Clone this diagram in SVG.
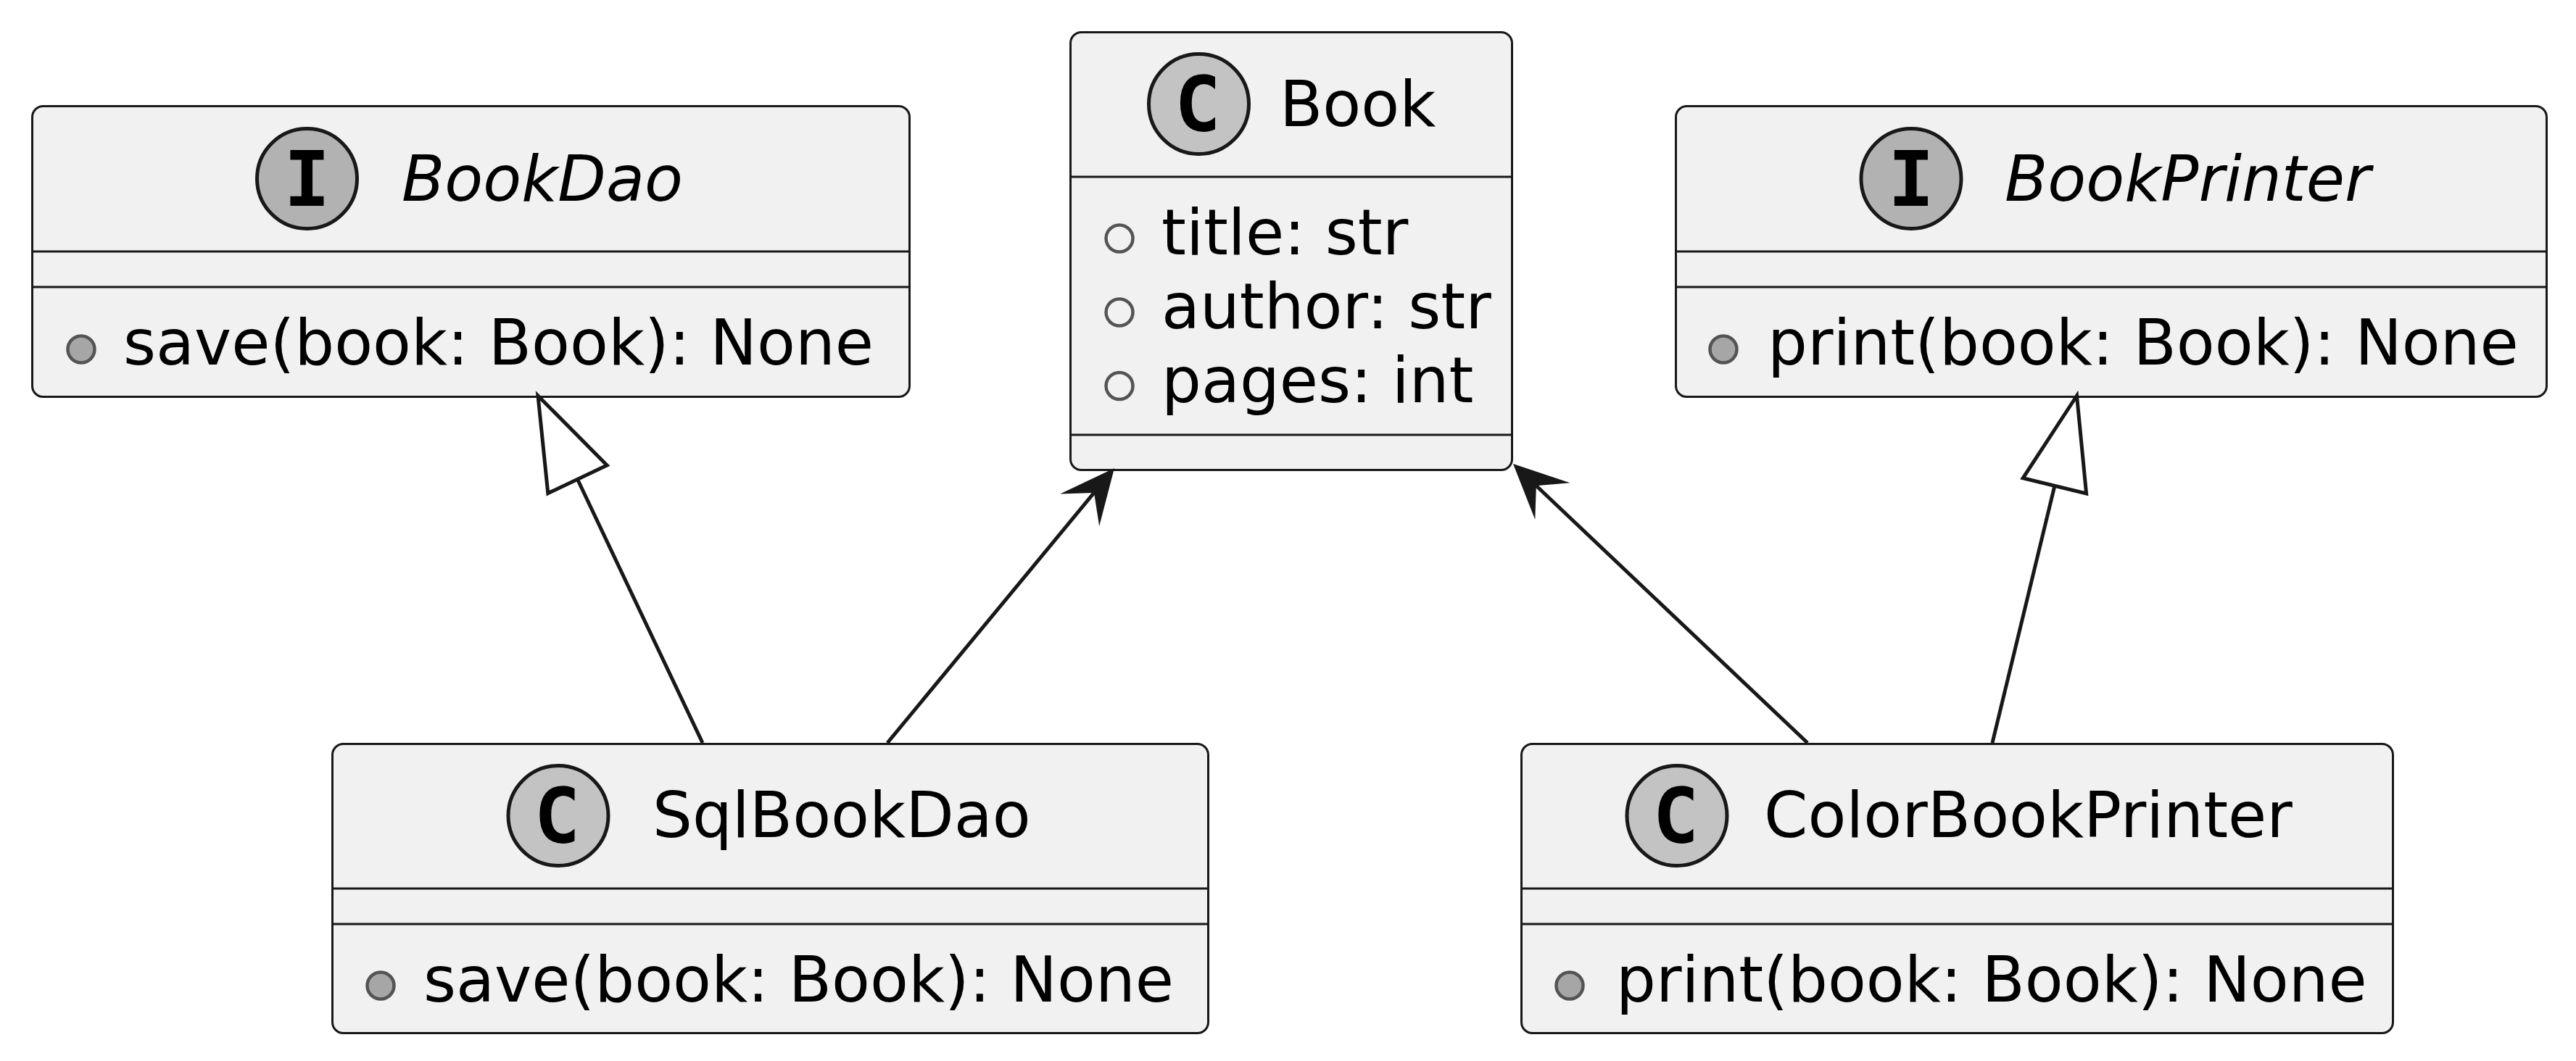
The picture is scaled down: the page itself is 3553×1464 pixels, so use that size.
<svg xmlns="http://www.w3.org/2000/svg" width="3553" height="1464" viewBox="0 0 3553 1464">
<style>
.box{fill:#F1F1F1;stroke:#181818;stroke-width:3}
.sep{stroke:#181818;stroke-width:3}
.spotC{fill:#C3C3C3;stroke:#181818;stroke-width:5}
.spotI{fill:#B2B2B2;stroke:#181818;stroke-width:5}
.spotT{font-family:"DejaVu Sans Mono","Liberation Mono",monospace;font-weight:bold;font-size:106px;fill:#000;text-anchor:middle}
.name{font-family:"DejaVu Sans","Liberation Sans",sans-serif;font-size:86.5px;fill:#000}
.iname{font-style:italic}
.mem{font-family:"DejaVu Sans","Liberation Sans",sans-serif;font-size:86.5px;fill:#000}
.pubM{fill:#A6A6A6;stroke:#545454;stroke-width:4.5}
.pubF{fill:none;stroke:#545454;stroke-width:4.5}
.edge{fill:none;stroke:#181818;stroke-width:5}
.head{fill:#181818;stroke:none}
.tri{fill:none;stroke:#181818;stroke-width:5;stroke-linejoin:miter}
</style>
<rect width="3553" height="1464" fill="#FFFFFF"/>

<g id="BookDao">
<rect class="box" x="44.5" y="146.5" width="1210" height="401" rx="15"/>
<line class="sep" x1="44.5" y1="347" x2="1254.5" y2="347"/>
<line class="sep" x1="44.5" y1="396" x2="1254.5" y2="396"/>
<circle class="spotI" cx="423.5" cy="246.5" r="69"/>
<text class="spotT" x="423.5" y="284">I</text>
<text class="name iname" x="554" y="277">BookDao</text>
<circle class="pubM" cx="112" cy="482" r="18.5"/>
<text class="mem" x="170" y="503">save(book: Book): None</text>
</g>

<g id="Book">
<rect class="box" x="1476.5" y="44.5" width="609" height="604" rx="15"/>
<line class="sep" x1="1476.5" y1="244" x2="2085.5" y2="244"/>
<line class="sep" x1="1476.5" y1="600" x2="2085.5" y2="600"/>
<circle class="spotC" cx="1653.5" cy="143.5" r="69"/>
<text class="spotT" x="1652" y="181">C</text>
<text class="name" x="1765" y="174">Book</text>
<circle class="pubF" cx="1544" cy="329" r="18.5"/>
<text class="mem" x="1602" y="351">title: str</text>
<circle class="pubF" cx="1544" cy="431" r="18.5"/>
<text class="mem" x="1602" y="453">author: str</text>
<circle class="pubF" cx="1544" cy="532.5" r="18.5"/>
<text class="mem" x="1602" y="554.5">pages: int</text>
</g>

<g id="BookPrinter">
<rect class="box" x="2311.5" y="146.5" width="1201" height="401" rx="15"/>
<line class="sep" x1="2311.5" y1="347" x2="3512.5" y2="347"/>
<line class="sep" x1="2311.5" y1="396" x2="3512.5" y2="396"/>
<circle class="spotI" cx="2636" cy="246.5" r="69"/>
<text class="spotT" x="2636" y="284">I</text>
<text class="name iname" x="2765" y="277">BookPrinter</text>
<circle class="pubM" cx="2377" cy="482" r="18.5"/>
<text class="mem" x="2438" y="503">print(book: Book): None</text>
</g>

<g id="SqlBookDao">
<rect class="box" x="458.5" y="1026.5" width="1208" height="399" rx="15"/>
<line class="sep" x1="458.5" y1="1226" x2="1666.5" y2="1226"/>
<line class="sep" x1="458.5" y1="1275" x2="1666.5" y2="1275"/>
<circle class="spotC" cx="770" cy="1125.5" r="69"/>
<text class="spotT" x="768.5" y="1163">C</text>
<text class="name" x="900" y="1155">SqlBookDao</text>
<circle class="pubM" cx="525" cy="1360" r="18.5"/>
<text class="mem" x="584" y="1382">save(book: Book): None</text>
</g>

<g id="ColorBookPrinter">
<rect class="box" x="2098.5" y="1026.5" width="1202" height="399" rx="15"/>
<line class="sep" x1="2098.5" y1="1226" x2="3300.5" y2="1226"/>
<line class="sep" x1="2098.5" y1="1275" x2="3300.5" y2="1275"/>
<circle class="spotC" cx="2313" cy="1125.5" r="69"/>
<text class="spotT" x="2311.5" y="1163">C</text>
<text class="name" x="2433" y="1155">ColorBookPrinter</text>
<circle class="pubM" cx="2165" cy="1360" r="18.5"/>
<text class="mem" x="2229" y="1382">print(book: Book): None</text>
</g>

<g id="connectors">
<!-- SqlBookDao implements BookDao -->
<line class="edge" x1="969" y1="1025" x2="796.5" y2="661.3"/>
<polygon class="tri" points="742,546 755.8,680.6 837.2,642"/>
<!-- SqlBookDao uses Book -->
<line class="edge" x1="1224" y1="1025" x2="1509" y2="679.9"/>
<polygon class="head" points="1537,646 1462.2,681.5 1509,679.9 1516.2,726.1"/>
<!-- ColorBookPrinter uses Book -->
<line class="edge" x1="2493" y1="1025" x2="2118.9" y2="670.3"/>
<polygon class="head" points="2087,640 2165.5,666.2 2118.9,670.3 2117.3,717"/>
<!-- ColorBookPrinter implements BookPrinter -->
<line class="edge" x1="2748" y1="1025" x2="2833.9" y2="670.3"/>
<polygon class="tri" points="2864.5,546 2877.6,680.9 2790.2,659.7"/>
</g>
</svg>
